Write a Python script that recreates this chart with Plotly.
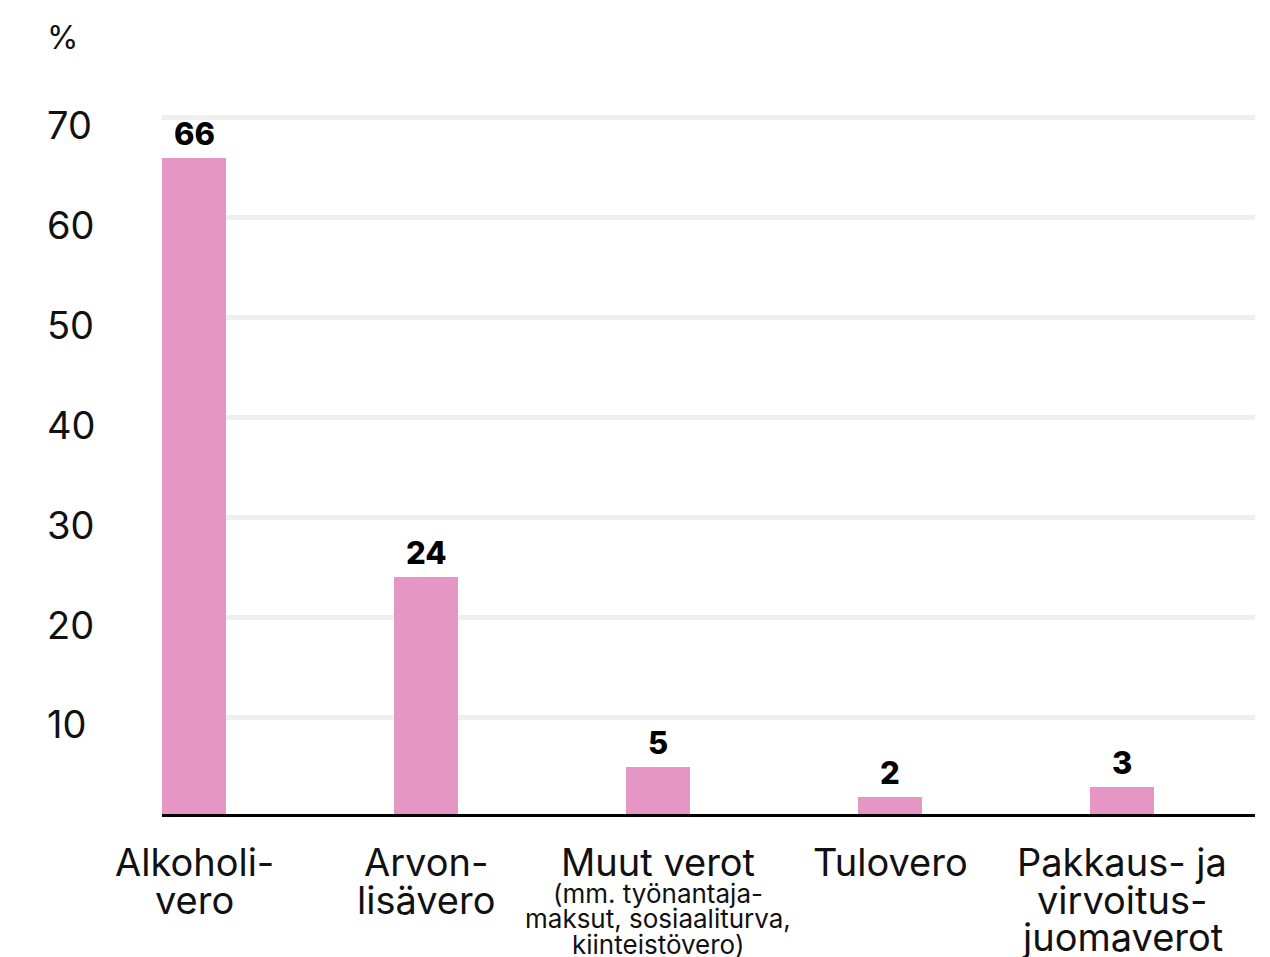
import plotly.graph_objects as go

# Share of tax revenue by tax type (%)
categories = [0, 1, 2, 3, 4]
values = [66, 24, 5, 2, 3]
label_main = [
    ["Alkoholi-", "vero"],
    ["Arvon-", "lisävero"],
    ["Muut verot"],
    ["Tulovero"],
    ["Pakkaus- ja", "virvoitus-", "juomaverot"],
]
label_note = [
    [],
    [],
    ["(mm. työnantaja-", "maksut, sosiaaliturva,", "kiinteistövero)"],
    [],
    [],
]
y_ticks = [10, 20, 30, 40, 50, 60, 70]
unit_label = "%"

FONT = "Inter"
BAR_COLOR = "#E696C4"
GRID_COLOR = "#EFEFEF"
TEXT_COLOR = "#111111"

W, H = 1270, 957
M_L, M_R, M_T, M_B = 162, 15, 98, 140
plot_w = W - M_L - M_R
plot_h = H - M_T - M_B

fig = go.Figure()
fig.add_trace(go.Bar(
    x=categories,
    y=values,
    width=0.276,
    marker=dict(color=BAR_COLOR, line=dict(width=0)),
    hoverinfo="skip",
))

annotations = []
# value labels above the bars
for c, v in zip(categories, values):
    annotations.append(dict(
        x=c, y=v, xref="x", yref="y", text=str(v), showarrow=False,
        yanchor="bottom", yshift=4,
        font=dict(family=FONT, size=31, color="#000000", weight=800),
    ))

# category labels under the baseline, line by line
for c, main, note in zip(categories, label_main, label_note):
    for k, line in enumerate(main):
        annotations.append(dict(
            x=c, y=0, xref="x", yref="paper", text=line, showarrow=False,
            yanchor="middle", yshift=-(45 + 37.5 * k),
            font=dict(family=FONT, size=38, color=TEXT_COLOR),
        ))
    for k, line in enumerate(note):
        annotations.append(dict(
            x=c, y=0, xref="x", yref="paper", text=line, showarrow=False,
            yanchor="middle", yshift=-(76 + 25.5 * k),
            font=dict(family=FONT, size=26, color=TEXT_COLOR),
        ))

# unit label above the value axis (pixel position converted to paper units)
annotations.append(dict(
    x=(45 - M_L) / plot_w, y=(H - M_B - 37) / plot_h,
    xref="paper", yref="paper", text=unit_label, showarrow=False,
    xanchor="left", yanchor="middle",
    font=dict(family=FONT, size=32, color=TEXT_COLOR),
))

fig.update_layout(
    width=W, height=H,
    margin=dict(l=M_L, r=M_R, t=M_T, b=M_B, autoexpand=False),
    paper_bgcolor="white", plot_bgcolor="white",
    showlegend=False,
    bargap=0,
    xaxis=dict(
        range=[-0.138, 4.573],
        showticklabels=False, showgrid=False, zeroline=False,
        showline=False, ticks="",
    ),
    yaxis=dict(
        range=[0, 72],
        tickvals=y_ticks,
        ticktext=[str(t) for t in y_ticks],
        showgrid=True, gridcolor=GRID_COLOR, gridwidth=5,
        zeroline=False, showline=False, ticks="",
        ticklabelposition="inside",
        ticklabelstandoff=-118,
        ticklabelshift=8,
        tickfont=dict(family=FONT, size=38, color=TEXT_COLOR),
    ),
    annotations=annotations,
    shapes=[dict(
        type="line", xref="paper", yref="y", x0=0, x1=1, y0=0, y1=0,
        line=dict(color="#000000", width=6), layer="above",
    )],
)

fig.write_html("out.html")
